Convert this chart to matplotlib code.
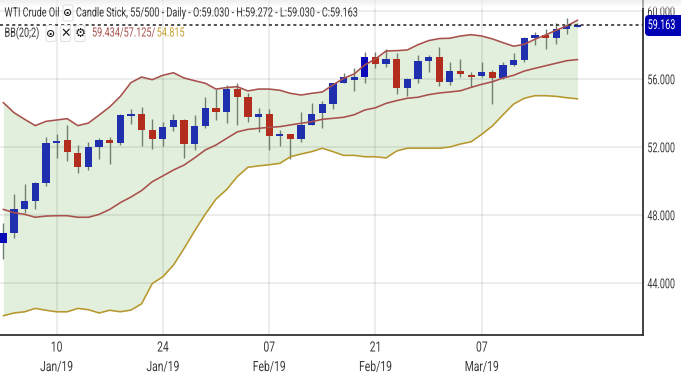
import matplotlib
matplotlib.use("Agg")
import matplotlib.pyplot as plt
from matplotlib.patches import Rectangle, FancyBboxPatch
from matplotlib.patheffects import AbstractPathEffect
from matplotlib.transforms import Affine2D, Bbox
import numpy as np

plt.rcParams['font.family'] = ['Roboto', 'DejaVu Sans']

opens = [46.35,46.91,48.34,48.81,49.87,52.22,52.38,51.65,50.81,51.96,52.38,52.20,53.81,53.94,52.98,52.45,53.16,53.55,52.14,53.24,54.28,54.02,55.38,54.91,53.73,53.94,52.61,52.75,52.45,53.29,53.96,54.51,55.77,55.92,56.12,57.26,56.88,57.18,55.47,56.00,57.06,57.26,55.81,56.47,56.24,56.18,56.41,56.04,56.81,57.12,58.39,58.55,58.41,58.94,59.03]
highs = [47.51,49.22,49.81,49.95,52.59,52.75,53.29,52.08,52.27,52.51,52.57,53.95,54.22,54.32,53.63,53.45,53.91,53.61,53.87,54.91,55.38,55.63,55.73,55.18,54.26,54.20,52.98,52.75,54.02,54.59,54.69,55.77,56.32,56.61,57.55,57.55,57.75,57.53,56.06,57.38,57.38,57.85,56.97,57.16,56.38,56.97,56.49,56.97,57.53,58.44,58.73,58.92,59.26,59.55,59.272]
lows = [45.39,46.65,48.12,48.32,49.71,51.35,51.16,50.44,50.63,51.28,50.98,52.08,53.34,52.06,51.86,52.06,52.91,51.34,51.82,53.08,53.57,53.38,53.28,53.47,52.87,51.79,52.06,51.26,52.29,53.29,53.10,54.24,55.73,55.28,55.77,56.65,56.69,55.08,55.00,55.73,56.41,55.59,55.63,56.08,55.49,56.08,54.51,56.00,56.73,57.00,57.98,57.73,58.06,58.61,59.03]
closes = [46.91,48.31,48.81,49.87,52.22,52.36,51.67,50.79,51.96,52.38,52.22,53.88,53.94,53.00,52.45,53.16,53.55,52.14,53.24,54.28,54.04,55.38,54.91,53.73,53.94,52.61,52.75,52.45,53.29,53.94,54.49,55.77,56.08,56.08,57.26,56.88,57.18,55.47,56.00,57.02,57.26,55.81,56.48,56.28,56.10,56.39,56.04,56.81,57.12,58.39,58.55,58.41,58.94,59.12,59.163]
bb_upper = [54.59,54.00,53.61,53.24,53.49,53.57,53.65,53.24,53.39,53.86,54.34,54.96,55.77,56.10,55.94,56.20,56.35,56.04,55.88,55.73,55.39,55.48,55.53,55.28,55.39,55.39,55.32,55.14,55.04,55.14,55.22,55.63,56.02,56.28,56.81,57.16,57.63,57.65,57.69,58.00,58.24,58.36,58.38,58.51,58.59,58.51,58.34,58.12,57.91,58.02,58.32,58.57,58.85,59.10,59.434]
bb_mid = [48.31,48.12,48.02,47.85,47.92,47.94,47.94,47.85,47.85,48.02,48.31,48.71,49.04,49.42,49.94,50.28,50.63,50.92,51.35,51.81,52.10,52.49,52.87,53.02,53.08,53.14,53.18,53.28,53.38,53.47,53.61,53.67,53.73,53.88,54.16,54.29,54.55,54.71,54.85,54.91,55.06,55.16,55.22,55.29,55.49,55.67,55.82,56.04,56.20,56.45,56.61,56.76,56.91,57.06,57.125]
bb_lower = [42.06,42.22,42.29,42.49,42.38,42.29,42.29,42.49,42.41,42.22,42.38,42.29,42.39,42.76,43.95,44.35,45.04,46.02,47.06,48.04,48.92,49.48,50.24,50.79,50.87,50.94,51.02,51.41,51.57,51.71,51.91,51.71,51.49,51.49,51.41,51.41,51.34,51.75,51.91,51.91,51.91,51.91,51.98,52.16,52.29,52.73,53.22,53.88,54.51,54.85,55.00,55.00,54.96,54.88,54.815]
y_ticks = [44, 48, 52, 56, 60]
x_tick_idx = [5, 15, 25, 35, 45]
x_tick_labels = ['10\nJan/19', '24\nJan/19', '07\nFeb/19', '21\nFeb/19', '07\nMar/19']
last_price = 59.163

W, H = 681, 376
BLUE, DARK_BLUE, RED = '#1f2fae', '#0a0ab8', '#b22d1e'
dark_candles = (0, 34)


class Squash(AbstractPathEffect):
    """Narrows a text horizontally about its anchor (the reference's font is condensed)."""
    def __init__(self, text, sx):
        super().__init__()
        self.text, self.sx = text, sx

    def draw_path(self, renderer, gc, tpath, affine, rgbFace=None):
        ax_ = self.text.get_transform().transform(self.text.get_position())[0]
        a = affine + Affine2D().translate(-ax_, 0).scale(self.sx, 1).translate(ax_, 0)
        renderer.draw_path(gc, tpath, a, rgbFace)


def condense(text, sx):
    text.set_path_effects([Squash(text, sx)])
    orig = text.get_window_extent

    def extent(renderer=None, dpi=None):
        bb = orig(renderer, dpi)
        ax_ = text.get_transform().transform(text.get_position())[0]
        return Bbox([[ax_ + (bb.x0 - ax_) * sx, bb.y0], [ax_ + (bb.x1 - ax_) * sx, bb.y1]])
    text.get_window_extent = extent
    return text


fig = plt.figure(figsize=(W/100, H/100), dpi=100, facecolor='white')
ax = fig.add_axes([0, (H-335)/H, 643/W, 335/H])
ax.set_xlim((0-3.4)/10.63, (643-3.4)/10.63)
ax.set_ylim(60.629-335*0.05882, 60.629)
ax.set_facecolor('white')
x = np.arange(len(closes))

ax.set_yticks(y_ticks)
ax.set_yticklabels([f'{v:.3f}' for v in y_ticks], fontsize=9.8, color='#3a3a3a', ha='right')
ax.set_xticks(x_tick_idx)
ax.set_xticklabels(x_tick_labels, fontsize=10.2, color='#3a3a3a', linespacing=1.5)
ax.yaxis.tick_right()
ax.tick_params(axis='x', length=0, pad=4)
ax.tick_params(axis='y', length=0, pad=23)
for lab in ax.get_yticklabels():
    lab.set_ha('right')
    condense(lab, 0.66)
for lab in ax.get_xticklabels():
    condense(lab, 0.73)
ax.grid(True, color='black', alpha=0.085, lw=1.2, zorder=3)
ax.set_axisbelow(False)
for s in ('top', 'left'):
    ax.spines[s].set_visible(False)
for s in ('right', 'bottom'):
    ax.spines[s].set_color('#333333')
    ax.spines[s].set_linewidth(1.3)

ax.fill_between(x, bb_lower, bb_upper, color='#e3efdd', lw=0, zorder=1)
ax.plot(x, bb_upper, color='#a8504c', lw=1.15, zorder=6)
ax.plot(x, bb_mid, color='#a8504c', lw=1.15, zorder=6)
ax.plot(x, bb_lower, color='#b8982e', lw=1.15, zorder=6)

ax.vlines(x, lows, highs, color='#6f7f70', lw=1.0, zorder=4)
for i, (o, c) in enumerate(zip(opens, closes)):
    up = DARK_BLUE if i in dark_candles else BLUE
    ax.add_patch(Rectangle((i-0.34, min(o, c)), 0.68, max(abs(c-o), 0.03),
                           facecolor=up if c >= o else RED, edgecolor='none', zorder=5))

ax.axhline(last_price, color='#222222', lw=1.1, ls=(0, (2, 2)), zorder=7)

ov = fig.add_axes([0, 0, 1, 1], facecolor='none')
ov.imshow(np.linspace(0.9, 1, 8).reshape(-1, 1), cmap='gray', vmin=0, vmax=1,
          extent=(0, W, 8, 0), aspect='auto', zorder=0, alpha=0.6)
ov.set_xlim(0, W); ov.set_ylim(H, 0); ov.axis('off')

ov.add_patch(FancyBboxPatch((645, 15), 44, 21, boxstyle='round,pad=0,rounding_size=4',
                            fc='#0000b4', ec='none', zorder=5))
condense(ov.text(661.5, 25, f'{last_price:.3f}', color='white', fontsize=9.8,
                 ha='center', va='center', zorder=6), 0.66)


def icon(cx, cy, glyph, size=8):
    ov.add_patch(FancyBboxPatch((cx-5, cy-8), 10, 16, boxstyle='round,pad=0,rounding_size=2',
                                fc='white', ec='#e2e2e2', lw=0.8, zorder=5))
    ov.text(cx, cy, glyph, fontsize=size, ha='center', va='center', color='#222222',
            family='DejaVu Sans', weight='bold', zorder=6)


def label(px, py, s, color='#333333'):
    return condense(ov.text(px, py, s, fontsize=9.2, color=color, va='center', zorder=6), 0.71)


label(4.5, 13, 'WTI Crude Oil')
icon(68, 13, '⊙')
label(76, 13, 'Candle Stick, 55/500 - Daily - O:59.030 - H:59.272 - L:59.030 - C:59.163')
label(4.5, 33, 'BB(20;2)')
icon(51, 33.5, '⊙')
icon(65.5, 33.5, '✕', size=9)
icon(80, 33.5, '⚙', size=9)
label(92, 33, '59.434/57.125/', '#a8504c')
label(156.7, 33, '54.815', '#c8a030')

fig.savefig('out.png', dpi=100)
